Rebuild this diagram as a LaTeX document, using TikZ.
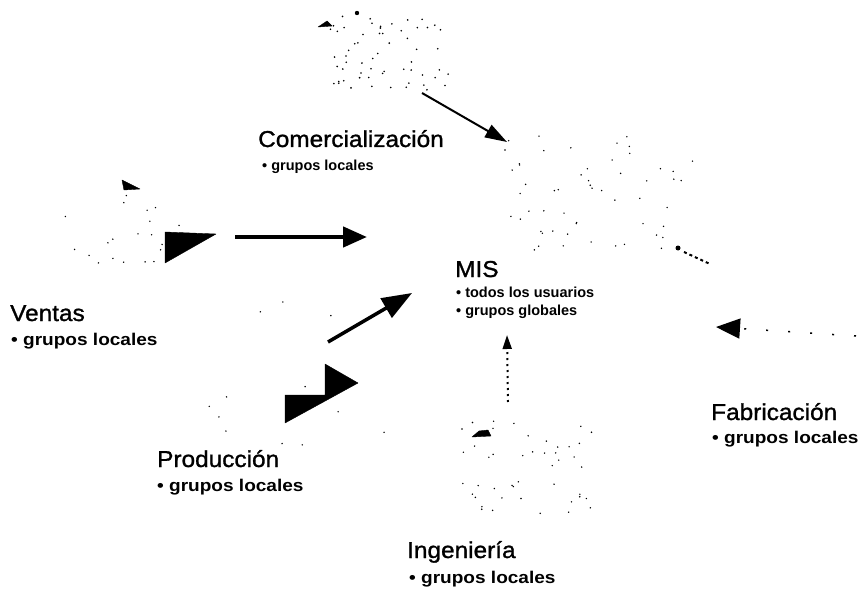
\documentclass[tikz,border=0pt]{standalone}
\usepackage{fontspec}
\setmainfont{Liberation Sans}
\newfontfamily\labfont[FakeStretch=1.06,FakeBold=1.2]{Liberation Sans}
\newfontfamily\sublabfont[FakeStretch=1.12]{Liberation Sans}
\newfontfamily\subsmlabfont{Liberation Sans}
\usetikzlibrary{arrows.meta}
\newcommand{\titlefont}{\labfont\fontsize{23}{25}\selectfont}
\newcommand{\subfont}{\sublabfont\bfseries\fontsize{17}{19}\selectfont}
\newcommand{\subsmfont}{\subsmlabfont\bfseries\fontsize{14.5}{17}\selectfont}
\begin{document}
\begin{tikzpicture}[x=1pt,y=-1pt,
  ttl/.style={anchor=base west, inner sep=0pt, font=\titlefont},
  sub/.style={anchor=base west, inner sep=0pt, font=\subfont},
  subsm/.style={anchor=base west, inner sep=0pt, font=\subsmfont},
  blob/.style={fill=black, draw=black, line join=round},
  link/.style={line width=4.5pt, -{Triangle[length=24pt,width=20pt]}},
  faint/.style={line width=2pt, -{Triangle[length=22pt,width=14pt]}},
  speck/.style={fill=black}]
\useasboundingbox (0,0) rectangle (867,596);
\fill[white] (0,0) rectangle (867,596);

% labels
\node[ttl] (com) at (258,147) {Comercialización};
\node[subsm] (comS) at (262,171) {• grupos locales};
\node[ttl] (ven) at (10,321) {Ventas};
\node[sub] (venS) at (11,345) {• grupos locales};
\node[ttl] (mis) at (455,277) {MIS};
\node[subsm] (misS1) at (456,297) {• todos los usuarios};
\node[subsm] (misS2) at (456,315) {• grupos globales};
\node[ttl] (fab) at (711,420) {Fabricación};
\node[sub] (fabS) at (712,443) {• grupos locales};
\node[ttl] (pro) at (157,467) {Producción};
\node[sub] (proS) at (157,491) {• grupos locales};
\node[ttl] (ing) at (407,558) {Ingeniería};
\node[sub] (ingS) at (409,583) {• grupos locales};

% dark shapes (icon flags)
\fill[blob] (165,232) -- (216,234) -- (165,263) -- cycle;
\fill[blob] (122,180) -- (140,189) -- (124,190) -- cycle;
\fill[blob] (285,395) -- (325,395) -- (325,364) -- (358,383) -- (285,423) -- cycle;
\fill[blob] (472,437) -- (479,431) -- (488,430) -- (491,436) -- cycle;
\fill[blob] (318,27) -- (327,21) -- (332,26) -- cycle;
\fill (357,13) circle (2.2);

% connector end points
\coordinate (vS) at (235,237);
\coordinate (vE) at (367,237);
\coordinate (pS) at (328,342);
\coordinate (pE) at (412,293);
\coordinate (cS) at (422,93);
\coordinate (cE) at (507,142);
\coordinate (iS) at (508,402);
\coordinate (iE) at (507,335);
\coordinate (fS) at (856,336);
\coordinate (fE) at (716,327);

\draw[link] (vS) -- (vE);
\draw[line width=3.5pt, -{Triangle[length=30pt,width=22pt]}] (pS) -- (pE);
\draw[faint] (cS) -- (cE);
\draw[line width=2pt, dash pattern=on 2pt off 4pt, -{Triangle[length=14pt,width=9pt]}] (iS) -- (iE);
\draw[line width=1.5pt, dash pattern=on 2pt off 20pt, -{Triangle[length=24pt,width=20pt]}] (fS) -- (fE);

% scanned speckle of the faded icons
\pgfmathsetseed{7}
\foreach \i in {1,...,60} {
  \pgfmathsetmacro\xx{330+120*rnd}\pgfmathsetmacro\yy{15+75*rnd}
  \fill[speck] (\xx,\yy) circle (0.9);}
\foreach \i in {1,...,55} {
  \pgfmathsetmacro\xx{505+190*rnd}\pgfmathsetmacro\yy{135+115*rnd}
  \fill[speck] (\xx,\yy) circle (0.8);}
\foreach \i in {1,...,45} {
  \pgfmathsetmacro\xx{455+140*rnd}\pgfmathsetmacro\yy{418+100*rnd}
  \fill[speck] (\xx,\yy) circle (0.8);}
\foreach \i in {1,...,20} {
  \pgfmathsetmacro\xx{50+140*rnd}\pgfmathsetmacro\yy{195+70*rnd}
  \fill[speck] (\xx,\yy) circle (0.8);}
\foreach \i in {1,...,12} {
  \pgfmathsetmacro\xx{200+200*rnd}\pgfmathsetmacro\yy{290+170*rnd}
  \fill[speck] (\xx,\yy) circle (0.8);}
\fill[speck] (678,248) circle (2.5);
\draw[line width=2pt, dash pattern=on 3pt off 3pt] (684,252) -- (710,264);
\end{tikzpicture}
\end{document}
